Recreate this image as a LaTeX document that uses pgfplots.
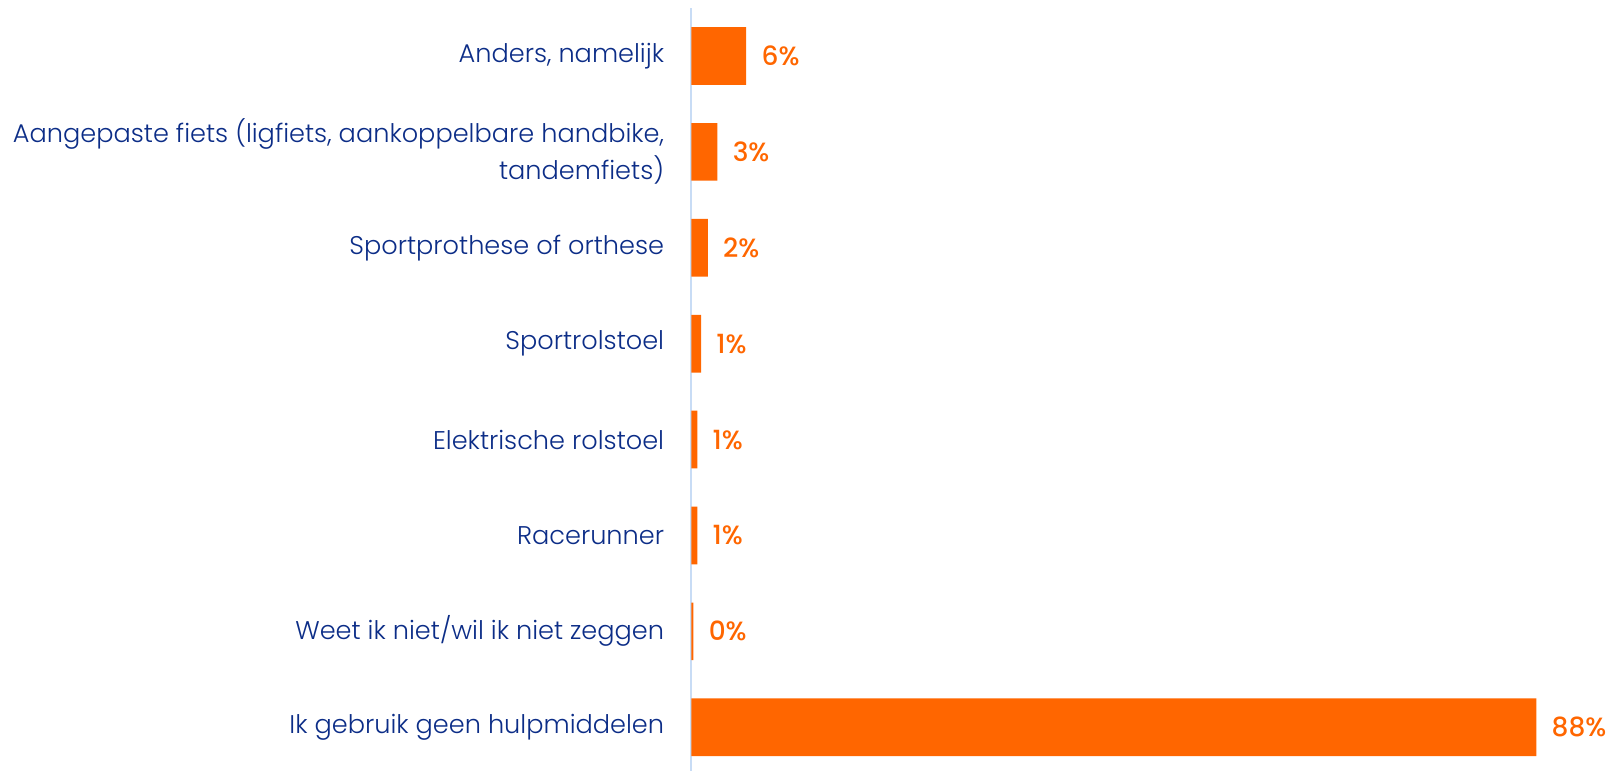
\documentclass[border=0pt]{standalone}
\usepackage{pgfplots}
\pgfplotsset{compat=1.18}
\usepackage{pgfplotstable}
\usepackage{fontspec}
\setmainfont{Poppins}
\newfontfamily\lightfont{Poppins Light}
\newfontfamily\medfont{Poppins Medium}
\definecolor{barorange}{RGB}{255,102,0}
\definecolor{labelblue}{RGB}{12,45,135}
\definecolor{axisblue}{RGB}{200,220,245}
\pgfplotstableread{
y x label
0 5.7 6\%
1 2.7 3\%
2 1.7 2\%
3 1.0 1\%
4 0.6 1\%
5 0.6 1\%
6 0.2 0\%
7 88.0 88\%
}\datatable
\begin{document}
\begin{tikzpicture}
\useasboundingbox (0,0) rectangle (804pt,385.5pt);
\begin{axis}[
  at={(345.75pt,0pt)}, anchor=south west,
  scale only axis, width=458.25pt, height=381.5pt,
  xmin=0, xmax=95.47, ymin=-0.5, ymax=7.456,
  y dir=reverse,
  xbar, bar width=28.85pt,
  axis x line=none,
  axis y line=left,
  y axis line style={draw=axisblue, line width=1pt, -},
  major tick length=0pt,
  ytick={0,...,7},
  yticklabels={{Anders, namelijk},{Aangepaste fiets (ligfiets, aankoppelbare handbike,\\tandemfiets)},{Sportprothese of orthese},{Sportrolstoel},{Elektrische rolstoel},{Racerunner},{Weet ik niet/wil ik niet zeggen},{Ik gebruik geen hulpmiddelen}},
  yticklabel style={align=right, anchor=east, font=\lightfont\fontsize{12.8pt}{18.5pt}\selectfont, text=labelblue, inner sep=0pt, xshift=-13.5pt},
  clip=false,
  nodes near coords,
  point meta=explicit symbolic,
  every node near coord/.append style={anchor=west, inner sep=0pt, xshift=7.5pt, font=\medfont\fontsize{13.2pt}{16pt}\selectfont, text=barorange},
]
\addplot[fill=barorange, draw=none] table[x=x, y=y, meta=label] {\datatable};
\end{axis}
\end{tikzpicture}
\end{document}
